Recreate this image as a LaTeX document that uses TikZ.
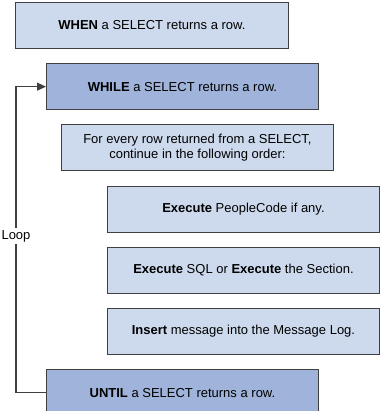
\documentclass[tikz,border=0pt]{standalone}
\usepackage{fontspec}
\setmainfont{Liberation Sans}
\usetikzlibrary{arrows.meta, positioning}
\definecolor{stageLight}{RGB}{205,218,237}
\definecolor{stageDark}{RGB}{160,180,219}
\definecolor{wireGray}{RGB}{64,64,64}

\begin{document}
\begin{tikzpicture}[x=1pt, y=-1pt, >={Triangle[length=9pt, width=8pt]},
  stage/.style={rectangle, draw=wireGray, line width=0.9pt, fill=stageLight, minimum width=272pt, minimum height=46pt, inner sep=0pt, align=center, font=\fontsize{13}{15}\selectfont},
  loopstage/.style={stage, fill=stageDark},
  wire/.style={draw=wireGray, line width=1.1pt}]

\useasboundingbox (0,0) rectangle (380,411);

\node[stage, anchor=north west, minimum width=273pt] (When) at (15,2) {\textbf{WHEN} a SELECT returns a row.};
\node[loopstage, below right=14.3pt and 31pt of When.south west] (While) {\textbf{WHILE} a SELECT returns a row.};
\node[stage, below right=14.3pt and 15pt of While.south west] (Order) {For every row returned from a SELECT,\\continue in the following order:};
\node[stage, below right=14.3pt and 46pt of Order.south west] (People) {\textbf{Execute} PeopleCode if any.};
\node[stage, below=14.3pt of People] (Sql) {\textbf{Execute} SQL or \textbf{Execute} the Section.};
\node[stage, below=14.3pt of Sql] (Insert) {\textbf{Insert} message into the Message Log.};
\node[loopstage, below=14.3pt of Insert.south -| While.west, anchor=north west] (Until) {\textbf{UNTIL} a SELECT returns a row.};

\node[fill=white, inner sep=2pt, font=\fontsize{13}{15}\selectfont] (Loop) at (16,236) {Loop};

\draw[wire] (Until.west) -| (Loop.south);
\draw[wire, ->] (Loop.north) |- (While.west);

\end{tikzpicture}
\end{document}
